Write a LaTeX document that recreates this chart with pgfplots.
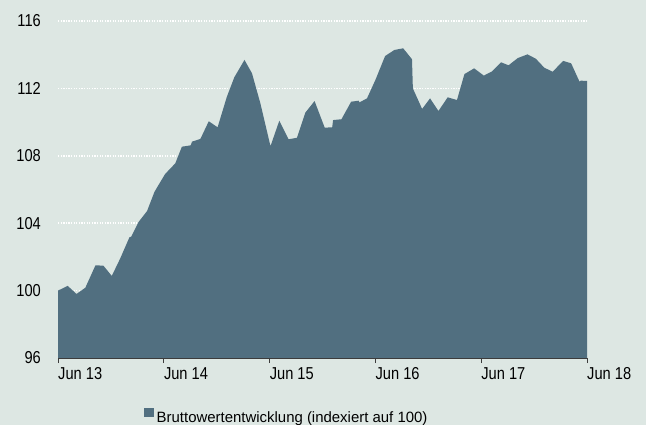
\documentclass[border=0pt]{standalone}
\usepackage{fontspec}
\setmainfont{Liberation Sans}[FakeStretch=0.85]
\newfontfamily\legfont{Liberation Sans}
\usepackage{pgfplots}
\pgfplotsset{compat=1.18}
\definecolor{bgc}{RGB}{221,231,227}
\definecolor{fillc}{RGB}{81,111,128}
\definecolor{axc}{RGB}{60,60,60}
\begin{document}
\begin{tikzpicture}
\useasboundingbox (0,0) rectangle (646bp,425bp);
\fill[bgc] (0,0) rectangle (646bp,425bp);
\begin{axis}[
  at={(58bp,67bp)}, anchor=south west,
  scale only axis, width=529bp, height=337bp,
  xmin=0, xmax=60, ymin=96, ymax=116,
  axis x line*=bottom, axis y line*=left,
  y axis line style={draw=none},
  x axis line style={draw=axc, line width=0.9bp},
  xtick={0,12,24,36,48,60},
  xticklabels={Jun 13,Jun 14,Jun 15,Jun 16,Jun 17,Jun 18},
  ytick={96,100,104,108,112,116},
  extra y ticks={100,104,108,112,116},
  extra y tick labels={},
  extra y tick style={grid=major},
  ymajorgrids=false,
  grid style={white, line width=1.6bp, dash pattern=on 1.3bp off 1.3bp},
  tick align=outside,
  major tick length=5bp,
  xtick style={draw=axc, line width=0.9bp},
  ytick style={draw=none},
  /pgf/number format/assume math mode=true,
  tick label style={font=\fontsize{17.3}{20}\selectfont, text=black},
  xticklabel style={anchor=north west, inner sep=0pt, xshift=0bp, yshift=-4.5bp},
  yticklabel style={anchor=east, inner sep=0pt, xshift=-12bp},
  legend style={draw=none, fill=none, at={(0.1626,-0.172)}, anchor=west,
    inner sep=0pt, column sep=3bp, font=\legfont\fontsize{15}{18}\selectfont,
    nodes={inner sep=0pt}},
  legend image code/.code={\fill[#1] (0bp,1bp) rectangle (9.5bp,10.5bp);},
]
\addplot[fill=fillc, draw=none] coordinates {
(0,100.0) (1.1,100.28) (2.1,99.8) (3.1,100.17) (4.25,101.5) (5.15,101.48)
(6.1,100.87) (7.05,101.9) (8.1,103.16) (8.3,103.2) (9.15,104.08) (10.1,104.72)
(10.95,105.87) (12.15,106.92) (13.3,107.55) (14.05,108.54) (15.05,108.62)
(15.2,108.84) (16.15,109.0) (17.1,110.05) (18.1,109.69) (19.15,111.5)
(20.0,112.66) (21.15,113.69) (22.0,112.9) (22.95,111.12) (24.1,108.57)
(25.1,110.08) (26.15,108.98) (27.1,109.07) (28.05,110.56) (29.1,111.25)
(30.25,109.67) (31.1,109.69) (31.2,110.12) (32.15,110.17) (33.25,111.21)
(34.1,111.27) (34.2,111.17) (35.05,111.41) (36.0,112.5) (37.1,113.92)
(38.15,114.28) (39.15,114.38) (40.15,113.73) (40.25,112.0) (41.3,110.78)
(42.2,111.41) (43.15,110.66) (44.2,111.47) (45.25,111.31) (46.1,112.85)
(47.2,113.19) (48.3,112.76) (49.2,113.0) (50.25,113.55) (51.1,113.37)
(52.15,113.8) (53.25,114.02) (54.2,113.76) (55.15,113.23) (56.1,112.99)
(57.3,113.63) (58.2,113.49) (59.15,112.4) (59.3,112.46) (60,112.44)
} \closedcycle;
\addlegendentry{Bruttowertentwicklung (indexiert auf 100)}
\end{axis}
\end{tikzpicture}
\end{document}
